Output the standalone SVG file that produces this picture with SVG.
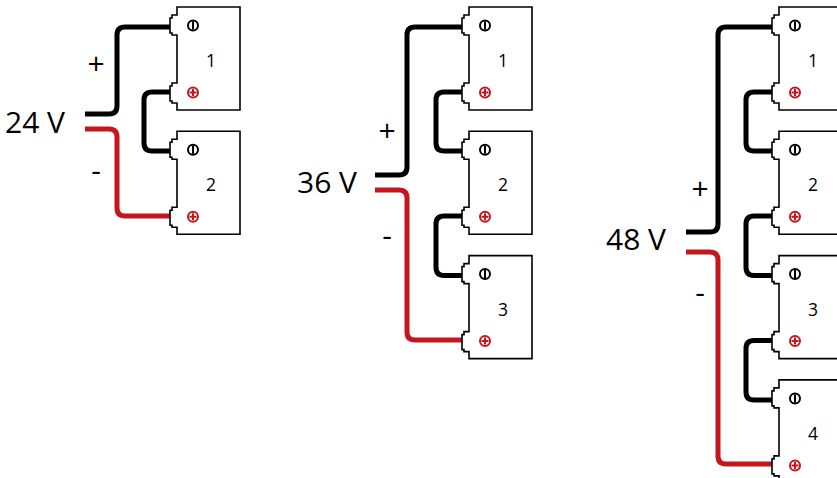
<svg xmlns="http://www.w3.org/2000/svg" xmlns:xlink="http://www.w3.org/1999/xlink" width="837" height="478" viewBox="0 0 837 478">
<style>
.body{fill:#fff;stroke:#000;stroke-width:1.6;stroke-linejoin:miter}
.neg{fill:none;stroke:#000;stroke-width:2}
.pos{fill:none;stroke:#c4161c;stroke-width:2}
.w{fill:none;stroke-width:5;stroke-linecap:butt;stroke-linejoin:round}
.bk{stroke:#000}
.rd{stroke:#c4161c}
.num{font-family:"Open Sans","DejaVu Sans",sans-serif;font-size:17.5px;fill:#000;text-anchor:middle}
.volt{font-family:"Open Sans","DejaVu Sans",sans-serif;font-size:30px;fill:#000}
.sign{font-family:"Open Sans","DejaVu Sans",sans-serif;font-size:30px;fill:#000;text-anchor:middle}
</style>
<defs>
<g id="bat">
<path class="body" d="M0,0 H63 V103 H0 V96 H-5 V94 H-7 V79 H-5 V76 H0 V28 H-5 V26 H-7 V11 H-5 V8 H0 Z"/>
<circle class="neg" cx="16" cy="18.5" r="5"/>
<line class="neg" x1="16" y1="14.5" x2="16" y2="22.5"/>
<circle class="pos" cx="16" cy="85.5" r="5"/>
<path class="pos" d="M16,82 V89 M12.5,85.5 H19.5"/>
</g>
</defs>

<g id="connectors">
<!-- group 24V -->
<path class="w bk" d="M85,114 H109 Q117,114 117,106 V35 Q117,27 125,27 H170"/>
<path class="w rd" d="M85,129 H109 Q117,129 117,137 V208 Q117,216 125,216 H170"/>
<path class="w bk" d="M170,92 H152 Q144,92 144,100 V143 Q144,151 152,151 H170"/>
<!-- group 36V -->
<path class="w bk" d="M375,175 H399 Q407,175 407,167 V35 Q407,27 415,27 H462"/>
<path class="w rd" d="M375,190 H399 Q407,190 407,198 V332 Q407,340 415,340 H462"/>
<path class="w bk" d="M462,92 H444 Q436,92 436,100 V143 Q436,151 444,151 H462"/>
<path class="w bk" d="M462,216 H444 Q436,216 436,224 V267 Q436,275.5 444,275.5 H462"/>
<!-- group 48V -->
<path class="w bk" d="M686,232 H710 Q718,232 718,224 V35 Q718,27 726,27 H772"/>
<path class="w rd" d="M686,252 H710 Q718,252 718,260 V456 Q718,464 726,464 H772"/>
<path class="w bk" d="M772,92 H754 Q746,92 746,100 V143 Q746,151 754,151 H772"/>
<path class="w bk" d="M772,216 H754 Q746,216 746,224 V267 Q746,275.5 754,275.5 H772"/>
<path class="w bk" d="M772,340.5 H754 Q746,340.5 746,348.5 V392 Q746,400 754,400 H772"/>
</g>

<g id="label-24v">
<text class="volt" x="5" y="133">24 V</text>
<text class="sign" x="96" y="74">+</text>
<text class="sign" x="96" y="181">-</text>
</g>
<g id="g24-b1" transform="translate(177,7)"><use xlink:href="#bat"/><text class="num" x="34" y="60">1</text></g>
<g id="g24-b2" transform="translate(177,131.3)"><use xlink:href="#bat"/><text class="num" x="34" y="60">2</text></g>

<g id="label-36v">
<text class="volt" x="297" y="193">36 V</text>
<text class="sign" x="387" y="141">+</text>
<text class="sign" x="387" y="246">-</text>
</g>
<g id="g36-b1" transform="translate(469,7)"><use xlink:href="#bat"/><text class="num" x="34" y="60">1</text></g>
<g id="g36-b2" transform="translate(469,131.3)"><use xlink:href="#bat"/><text class="num" x="34" y="60">2</text></g>
<g id="g36-b3" transform="translate(469,255.6)"><use xlink:href="#bat"/><text class="num" x="34" y="60">3</text></g>

<g id="label-48v">
<text class="volt" x="606" y="250">48 V</text>
<text class="sign" x="700" y="199">+</text>
<text class="sign" x="700" y="303">-</text>
</g>
<g id="g48-b1" transform="translate(779,7)"><use xlink:href="#bat"/><text class="num" x="34" y="60">1</text></g>
<g id="g48-b2" transform="translate(779,131.3)"><use xlink:href="#bat"/><text class="num" x="34" y="60">2</text></g>
<g id="g48-b3" transform="translate(779,255.6)"><use xlink:href="#bat"/><text class="num" x="34" y="60">3</text></g>
<g id="g48-b4" transform="translate(779,379.9)"><use xlink:href="#bat"/><text class="num" x="34" y="60">4</text></g>
</svg>
